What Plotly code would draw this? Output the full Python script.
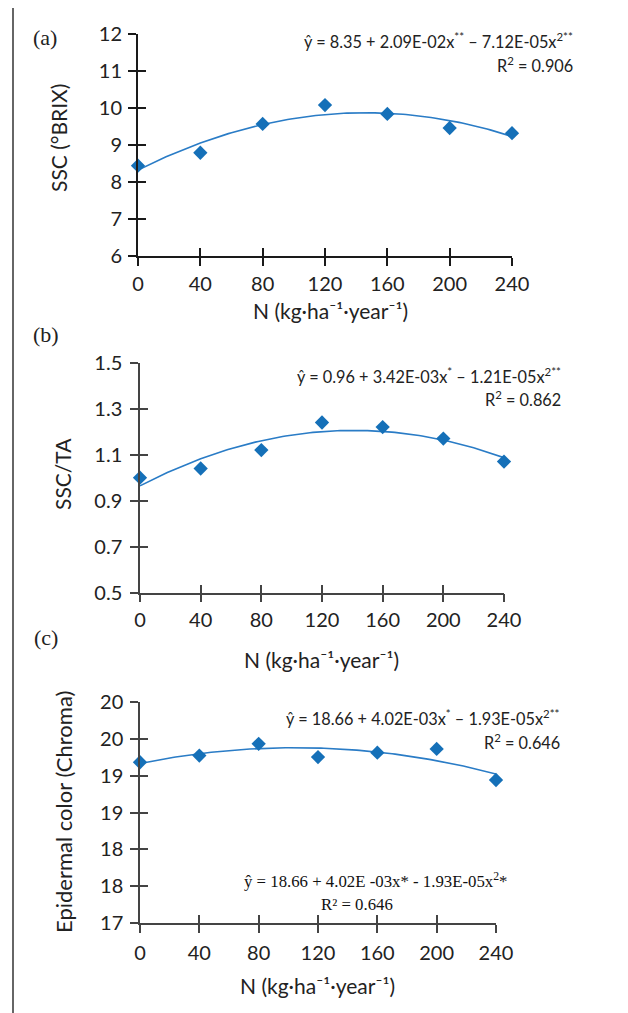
import numpy as np
import plotly.graph_objects as go

# ---------------- data ----------------
N = [0, 40, 80, 120, 160, 200, 240]
ssc = [8.44, 8.79, 9.57, 10.08, 9.84, 9.46, 9.32]
ssc_ta = [1.00, 1.04, 1.12, 1.24, 1.22, 1.17, 1.07]
chroma = [19.18, 19.27, 19.43, 19.25, 19.31, 19.36, 18.94]

x_ticks = [0, 40, 80, 120, 160, 200, 240]
panel_labels = ["(a)", "(b)", "(c)"]
y_titles = ["SSC (°BRIX)", "SSC/TA", "Epidermal color (Chroma)"]
x_title = "N (kg·ha⁻¹·year⁻¹)"
eq_lines = [
    ("ŷ = 8.35 + 2.09E-02x<sup>**</sup> – 7.12E-05x<sup>2**</sup>", "R<sup>2</sup> = 0.906"),
    ("ŷ = 0.96 + 3.42E-03x<sup>*</sup> – 1.21E-05x<sup>2**</sup>", "R<sup>2</sup> = 0.862"),
    ("ŷ = 18.66 + 4.02E-03x<sup>*</sup> – 1.93E-05x<sup>2**</sup>", "R<sup>2</sup> = 0.646"),
]
eq_extra = ("ŷ = 18.66 + 4.02E -03x* - 1.93E-05x<sup>2</sup>*", "R² = 0.646")

# ---------------- layout helpers ----------------
W, H = 628, 1013
OFF = 8  # page body margin
def fx(p):
    return (p - OFF) / W
def fy(p):
    return 1 - (p - OFF) / H

FONT = "Lato"
BLUE_M = "#1570b8"
BLUE_L = "#2a7cc6"

panels = [
    dict(y=ssc, xd=(138, 512), yd=(34, 256), yr=(6, 12), dtick=1, tick0=6, fmt=".0f",
         axc="#1a1a1a", lw=2, xstand=1, ystand=2, ytsize=21,
         lab=(45, 38), yt=(58, 138), xt=(330, 310), eq_r=575, eq_y=(40, 64)),
    dict(y=ssc_ta, xd=(140, 504), yd=(362.7, 592.7), yr=(0.5, 1.5), dtick=0.2, tick0=0.5, fmt=".1f",
         axc="#444444", lw=1.5, xstand=1, ystand=4, ytsize=21,
         lab=(46, 335), yt=(62, 474), xt=(321, 659), eq_r=563, eq_y=(375, 399)),
    dict(y=chroma, xd=(140, 496), yd=(701.7, 923.3), yr=(17, 20), dtick=0.5, tick0=17, fmt=".0f",
         axc="#444444", lw=1.5, xstand=3, ystand=3, ytsize=22,
         lab=(46, 637), yt=(63, 812), xt=(317, 985), eq_r=562, eq_y=(717, 741)),
]

fig = go.Figure()
layout = dict(
    width=W, height=H, margin=dict(l=0, r=0, t=0, b=0),
    paper_bgcolor="white", plot_bgcolor="white", showlegend=False,
    font=dict(family=FONT, size=18, color="#222222"),
)
annotations = []
xgrid = np.linspace(0, 240, 121)

for i, p in enumerate(panels):
    k = i + 1          # main axes
    o = i + 4          # overlay axes (inside ticks)
    xa = "x" if k == 1 else f"x{k}"
    ya = "y" if k == 1 else f"y{k}"
    xo, yo = f"x{o}", f"y{o}"

    coef = np.polyfit(N, p["y"], 2)
    fig.add_trace(go.Scatter(x=xgrid, y=np.polyval(coef, xgrid), mode="lines",
                             line=dict(color=BLUE_L, width=1.6), xaxis=xa, yaxis=ya,
                             hoverinfo="skip"))
    fig.add_trace(go.Scatter(x=N, y=p["y"], mode="markers", cliponaxis=False,
                             marker=dict(symbol="diamond", size=11, color=BLUE_M),
                             xaxis=xo, yaxis=yo))

    xdom = [fx(p["xd"][0]), fx(p["xd"][1])]
    ydom = [fy(p["yd"][1]), fy(p["yd"][0])]
    common_x = dict(range=[0, 240], tickvals=x_ticks, fixedrange=True, showgrid=False, zeroline=False)
    common_y = dict(range=list(p["yr"]), tick0=p["tick0"], dtick=p["dtick"], fixedrange=True,
                    showgrid=False, zeroline=False)
    layout["xaxis" + ("" if k == 1 else str(k))] = dict(
        domain=xdom, anchor=ya, showline=True, linecolor=p["axc"], linewidth=p["lw"],
        ticks="outside", ticklen=8, tickwidth=p["lw"], tickcolor=p["axc"],
        ticklabelstandoff=p["xstand"], tickfont=dict(size=20, color="#222"),
        automargin=False, **common_x)
    layout["yaxis" + ("" if k == 1 else str(k))] = dict(
        domain=ydom, anchor=xa, showline=True, linecolor=p["axc"], linewidth=p["lw"],
        ticks="outside", ticklen=8, tickwidth=p["lw"], tickcolor=p["axc"],
        tickformat=p["fmt"], ticklabelstandoff=p["ystand"], tickfont=dict(size=20, color="#222"),
        automargin=False, **common_y)
    layout[f"xaxis{o}"] = dict(overlaying=xa, anchor=yo, showline=False, ticks="inside", ticklen=8,
                               tickwidth=p["lw"], tickcolor=p["axc"], showticklabels=False,
                               **common_x)
    layout[f"yaxis{o}"] = dict(overlaying=ya, anchor=xo, showline=False, ticks="inside", ticklen=8,
                               tickwidth=p["lw"], tickcolor=p["axc"], showticklabels=False,
                               **common_y)

    # panel label
    annotations.append(dict(x=fx(p["lab"][0]), y=fy(p["lab"][1]), xref="paper", yref="paper",
                            text=panel_labels[i], showarrow=False, xanchor="center", yanchor="middle",
                            font=dict(family="Liberation Serif", size=22, color="#222")))
    # y title
    annotations.append(dict(x=fx(p["yt"][0]), y=fy(p["yt"][1]), xref="paper", yref="paper",
                            text=y_titles[i], textangle=-90, showarrow=False,
                            xanchor="center", yanchor="middle",
                            font=dict(size=p["ytsize"], color="#222")))
    # x title
    annotations.append(dict(x=fx(p["xt"][0]), y=fy(p["xt"][1]), xref="paper", yref="paper",
                            text=x_title, showarrow=False, xanchor="center", yanchor="middle",
                            font=dict(size=21, color="#222")))
    # equations
    for j, line in enumerate(eq_lines[i]):
        annotations.append(dict(x=fx(p["eq_r"]), y=fy(p["eq_y"][j]), xref="paper", yref="paper",
                                text=line, showarrow=False, xanchor="right", yanchor="middle",
                                font=dict(size=16.3, color="#222")))

# extra serif equation in panel (c)
annotations.append(dict(x=fx(375), y=fy(880), xref="paper", yref="paper", text=eq_extra[0],
                        showarrow=False, xanchor="center", yanchor="middle",
                        font=dict(family="Liberation Serif", size=16.8, color="#111")))
annotations.append(dict(x=fx(357), y=fy(904), xref="paper", yref="paper", text=eq_extra[1],
                        showarrow=False, xanchor="center", yanchor="middle",
                        font=dict(family="Liberation Serif", size=16.8, color="#111")))

layout["annotations"] = annotations
layout["shapes"] = [dict(type="line", xref="paper", yref="paper", x0=fx(13), x1=fx(13), y0=0, y1=1,
                         line=dict(color="#333", width=1.5))]
fig.update_layout(**layout)
fig.write_html("out.html")
